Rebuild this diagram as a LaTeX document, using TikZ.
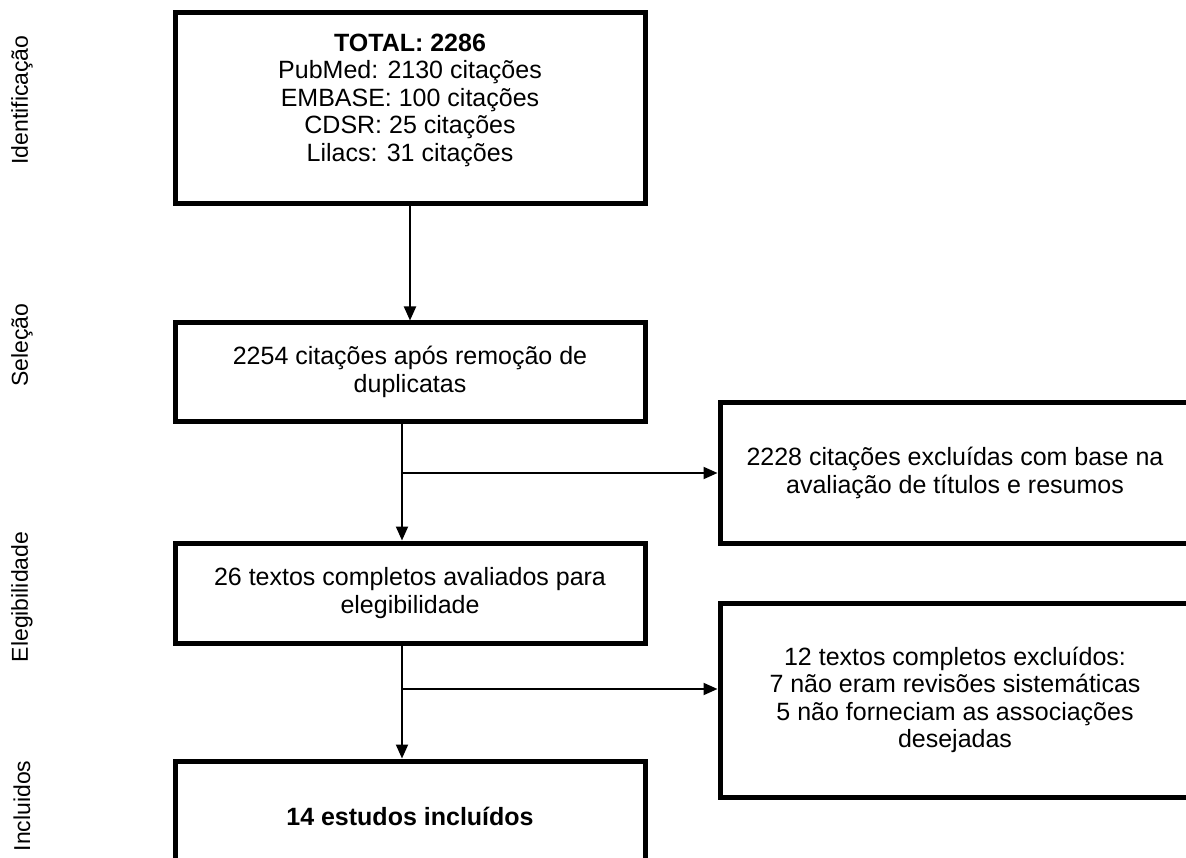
\documentclass[tikz,border=0pt]{standalone}
\usepackage{fontspec}
\setmainfont{Liberation Sans}
\usepackage{tikz}
\usetikzlibrary{
  positioning,
  arrows.meta
}

\begin{document}
\begin{tikzpicture}[
  x=1pt, y=-1pt,
  >={Triangle[length=14pt, width=12pt]},
  box/.style={
    rectangle, draw, line width=5pt, minimum width=470pt,
    font=\fontsize{25}{27.5}\selectfont, align=center, inner sep=0pt
  },
  stage/.style={
    rotate=90, font=\fontsize{23}{26}\selectfont, inner sep=0pt
  },
  every path/.style={line width=2pt}
]
\useasboundingbox (0,0) rectangle (1186,858);

% main column
\node[box, minimum height=191pt] (total) at (410,108.5)
  {\textbf{TOTAL: 2286}\\PubMed: 2130 citações\\EMBASE: 100 citações\\CDSR: 25 citações\\Lilacs: 31 citações\\[-6pt]};
\node[box, minimum height=98pt] (dup) at (410,372)
  {2254 citações após remoção de\\duplicatas};
\node[box, minimum height=100pt] (full) at (410,593)
  {26 textos completos avaliados para\\elegibilidade};
\node[box, minimum height=110pt] (incl) at (410,816)
  {\textbf{14 estudos incluídos}};

% exclusions
\node[box, minimum height=140pt] (excla) at (955,473)
  {2228 citações excluídas com base na\\avaliação de títulos e resumos};
\node[box, minimum height=194pt] (exclb) at (955,700)
  {12 textos completos excluídos:\\7 não eram revisões sistemáticas\\5 não forneciam as associações\\desejadas};

% stage labels
\node[stage] (idlbl) at (22,100) {Identificação};
\node[stage] (sellbl) at (22,345) {Seleção};
\node[stage] (eleglbl) at (22,597) {Elegibilidade};
\node[stage] (incllbl) at (22,806) {Incluidos};

\draw[->] (total) -- (dup);
\draw[->] ([xshift=-8pt]dup.south) -- ([xshift=-8pt]full.north);
\draw[->] ([xshift=-8pt]dup.south |- excla.west) -- (excla.west);
\draw[->] ([xshift=-8pt]full.south) -- ([xshift=-8pt]incl.north);
\draw[->] ([xshift=-8pt]full.south |- 0,689) -- ([yshift=11pt]exclb.west);

\end{tikzpicture}
\end{document}
